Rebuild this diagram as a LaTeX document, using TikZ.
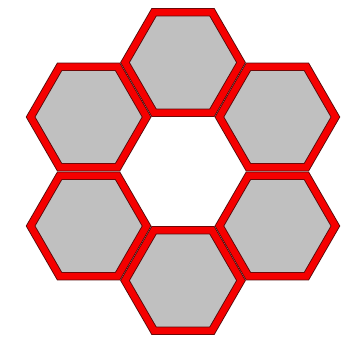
\documentclass[tikz,border=0pt]{standalone}
\definecolor{hexgray}{RGB}{192,192,192}
\definecolor{hexred}{RGB}{245,0,0}
\definecolor{hexedge}{RGB}{90,10,10}
\begin{document}
\begin{tikzpicture}[x=1pt,y=-1pt]
\useasboundingbox (0,0) rectangle (344,340);
\tikzset{hexcell/.style={fill=hexgray, draw=hexedge, line width=0.9pt, double=hexred, double distance=6.6pt, line join=miter}}
\foreach \a in {90,150,210,270,330,30} {
  \draw[hexcell, shift={(183,171.5)}, shift={(\a:109)}]
    (0:58) -- (60:58) -- (120:58) -- (180:58) -- (240:58) -- (300:58) -- cycle;
}
\end{tikzpicture}
\end{document}
